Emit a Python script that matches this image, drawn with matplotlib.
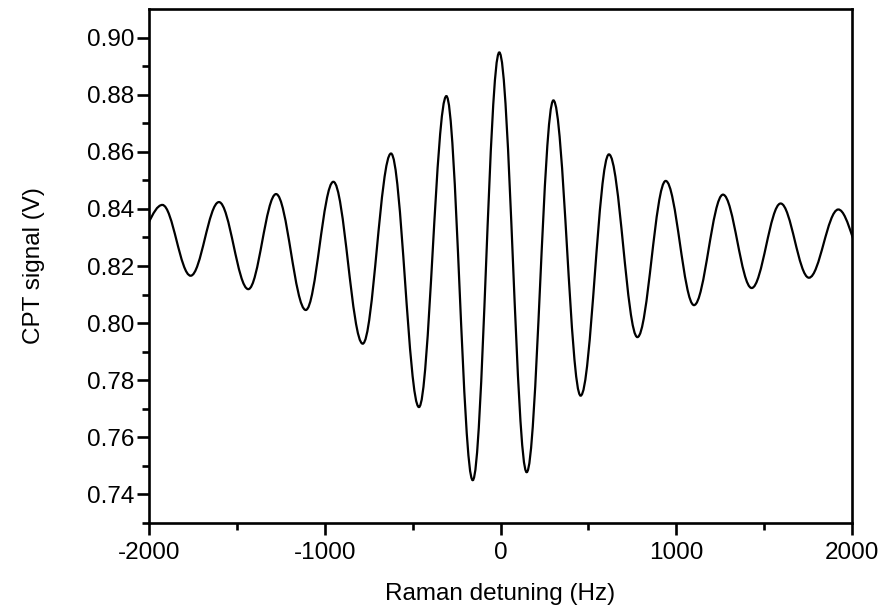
import matplotlib
matplotlib.use("Agg")
import matplotlib.pyplot as plt
from matplotlib.path import Path
from matplotlib.patches import PathPatch
from matplotlib.ticker import MultipleLocator, FormatStrFormatter

plt.rcParams['font.family'] = ['Liberation Sans', 'DejaVu Sans']
plt.rcParams['axes.unicode_minus'] = False

# fringe extrema (Hz, V); first and last lie just outside the axis
ext_x = [-2080, -1924, -1763, -1602, -1435, -1277, -1108, -951, -784, -623, -464,
         -308, -158, -7, 149, 301, 456, 617, 779, 940, 1101, 1266, 1429, 1594, 1755,
         1922, 2082]
ext_y = [0.829, 0.8414, 0.8166, 0.8424, 0.8119, 0.8452, 0.8046, 0.8495, 0.7928, 0.8594,
         0.7706, 0.8795, 0.7450, 0.8948, 0.7478, 0.8780, 0.7746, 0.8591, 0.7951, 0.8498,
         0.8063, 0.8450, 0.8123, 0.8419, 0.8159, 0.8398, 0.8209]

x_ticks = [-2000, -1000, 0, 1000, 2000]

# smooth curve through the extrema: cubic Bezier with flat tangents at each turning point
k = 0.3634
verts = [(ext_x[0], ext_y[0])]
codes = [Path.MOVETO]
for i in range(1, len(ext_x)):
    d = ext_x[i] - ext_x[i-1]
    verts += [(ext_x[i-1] + k*d, ext_y[i-1]), (ext_x[i] - k*d, ext_y[i]), (ext_x[i], ext_y[i])]
    codes += [Path.CURVE4]*3

fig = plt.figure(figsize=(8.96, 6.10), dpi=100)
ax = fig.add_axes([0.1663, 0.1426, 0.9509-0.1663, 0.9852-0.1426])
ax.add_patch(PathPatch(Path(verts, codes), facecolor='none', edgecolor='black', lw=1.6))

ax.set_xlim(-2000, 2000)
ax.set_ylim(0.73, 0.91)
ax.set_xticks(x_ticks)
ax.xaxis.set_minor_locator(MultipleLocator(500))
ax.yaxis.set_major_formatter(FormatStrFormatter('%.2f'))
ax.set_yticks([0.74, 0.76, 0.78, 0.80, 0.82, 0.84, 0.86, 0.88, 0.90])
ax.set_yticks([0.73, 0.75, 0.77, 0.79, 0.81, 0.83, 0.85, 0.87, 0.89], minor=True)

for s in ax.spines.values():
    s.set_linewidth(1.9)
ax.tick_params(which='major', direction='out', length=8.5, width=1.9, labelsize=17.5)
ax.tick_params(axis='x', which='major', pad=5)
ax.tick_params(axis='y', which='major', pad=2)
ax.tick_params(which='minor', direction='out', length=5, width=1.9)

ax.set_xlabel('Raman detuning (Hz)', fontsize=17.5, labelpad=14)
ax.set_ylabel('CPT signal (V)', fontsize=17.5, labelpad=30)

fig.savefig('out.png', dpi=100)
